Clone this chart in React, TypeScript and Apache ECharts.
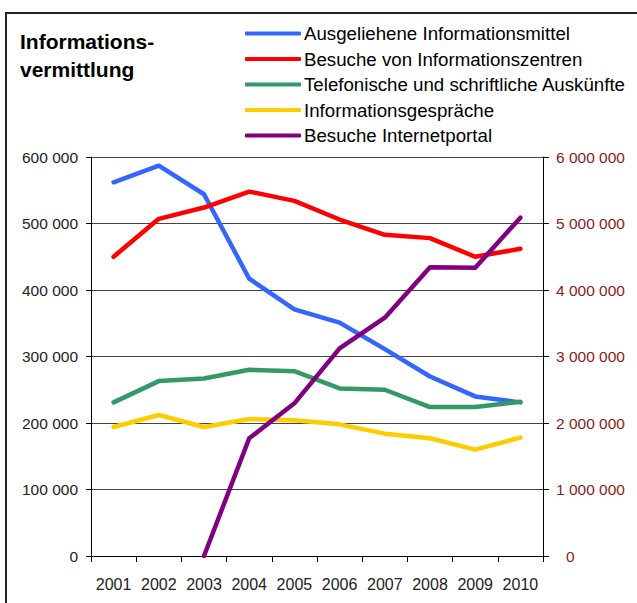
import React, { useEffect, useRef } from "react";
import * as echarts from "echarts";

const years = ["2001", "2002", "2003", "2004", "2005", "2006", "2007", "2008", "2009", "2010"];
const ausgeliehene = [562000, 587000, 544000, 417000, 371000, 351000, 311000, 270000, 240000, 231000];
const besucheZentren = [450000, 507000, 524000, 548000, 534000, 506000, 483000, 478000, 450000, 462000];
const telefonisch = [231000, 263000, 267000, 280000, 278000, 252000, 250000, 224000, 224000, 232000];
const gespraeche = [194000, 212000, 194000, 206000, 204000, 198000, 184000, 177000, 160000, 178000];
const internetportal = [null, null, 0, 1770000, 2296000, 3123000, 3584000, 4341000, 4335000, 5088000];

const seriesNames = [
  "Ausgeliehene Informationsmittel",
  "Besuche von Informationszentren",
  "Telefonische und schriftliche Auskünfte",
  "Informationsgespräche",
  "Besuche Internetportal",
];
const seriesColors = ["#3366FF", "#FF0000", "#339966", "#FFCC00", "#800080"];

const fmt = (v: number) => String(v).replace(/\B(?=(\d{3})+(?!\d))/g, " ");

const AXIS_FONT = "'Liberation Sans Narrow', 'Liberation Sans', Arial, sans-serif";

export default function App() {
  const ref = useRef<HTMLDivElement>(null);
  useEffect(() => {
    if (!ref.current) return;
    const chart = echarts.init(ref.current, null, { renderer: "svg" });
    const datasets = [ausgeliehene, besucheZentren, telefonisch, gespraeche, internetportal];
    chart.setOption({
      animation: false,
      backgroundColor: "#ffffff",
      title: {
        text: "Informations-\nvermittlung",
        left: 20,
        top: 27,
        padding: 0,
        textStyle: {
          fontFamily: "'Liberation Sans', Arial, sans-serif",
          fontSize: 21,
          fontWeight: "bold",
          color: "#000",
          lineHeight: 28,
        },
      },
      legend: {
        orient: "vertical",
        left: 245,
        top: 24,
        padding: 0,
        itemGap: 6.5,
        itemWidth: 56,
        itemHeight: 4,
        icon: "roundRect",
        selectedMode: false,
        textStyle: {
          fontFamily: "'Liberation Sans', Arial, sans-serif",
          fontSize: 18.7,
          color: "#000",
          padding: [0, 0, 0, -2],
        },
        data: seriesNames,
      },
      graphic: [
        {
          type: "rect",
          shape: { x: 6, y: 13, width: 640, height: 600 },
          style: { fill: "none", stroke: "#222", lineWidth: 2 },
          silent: true,
          z: -1,
        },
      ],
      grid: { left: 91, right: 94, top: 157, bottom: 47, containLabel: false },
      xAxis: {
        type: "category",
        data: years,
        boundaryGap: true,
        axisLine: { show: true, lineStyle: { color: "#000", width: 1 } },
        axisTick: { show: true, interval: 0, length: 6, lineStyle: { color: "#000" } },
        axisLabel: {
          interval: 0,
          margin: 20,
          fontFamily: AXIS_FONT,
          fontSize: 16,
          color: "#222",
        },
        splitLine: { show: false },
      },
      yAxis: [
        {
          type: "value",
          min: 0,
          max: 600000,
          interval: 100000,
          position: "left",
          axisLine: { show: true, lineStyle: { color: "#000" } },
          axisTick: { show: true, length: 5, lineStyle: { color: "#000" } },
          axisLabel: {
            margin: 13,
            fontFamily: AXIS_FONT,
            fontSize: 15.5,
            color: "#222",
            formatter: (v: number) => fmt(v),
          },
          splitLine: { show: true, lineStyle: { color: "#444", width: 1 } },
        },
        {
          type: "value",
          min: 0,
          max: 6000000,
          interval: 1000000,
          position: "right",
          axisLine: { show: true, lineStyle: { color: "#000" } },
          axisTick: { show: true, length: 6, lineStyle: { color: "#000" } },
          axisLabel: {
            margin: 13,
            fontFamily: AXIS_FONT,
            fontSize: 15.5,
            color: "#8B1C1C",
            formatter: (v: number) => (v === 0 ? "{z|0}" : fmt(v)),
            rich: {
              z: {
                fontFamily: AXIS_FONT,
                fontSize: 15.5,
                color: "#8B1C1C",
                padding: [0, 0, 0, 10],
              },
            },
          },
          splitLine: { show: false },
        },
      ],
      series: datasets.map((d, i) => ({
        name: seriesNames[i],
        type: "line",
        yAxisIndex: i === 4 ? 1 : 0,
        data: d,
        showSymbol: false,
        symbol: "none",
        connectNulls: false,
        color: seriesColors[i],
        lineStyle: { color: seriesColors[i], width: 4.5, cap: "round", join: "round" },
        itemStyle: { color: seriesColors[i] },
        z: 2 + i,
      })),
    });
    return () => chart.dispose();
  }, []);
  return <div ref={ref} style={{ width: 637, height: 603, position: "absolute", left: 0, top: 0 }} />;
}
